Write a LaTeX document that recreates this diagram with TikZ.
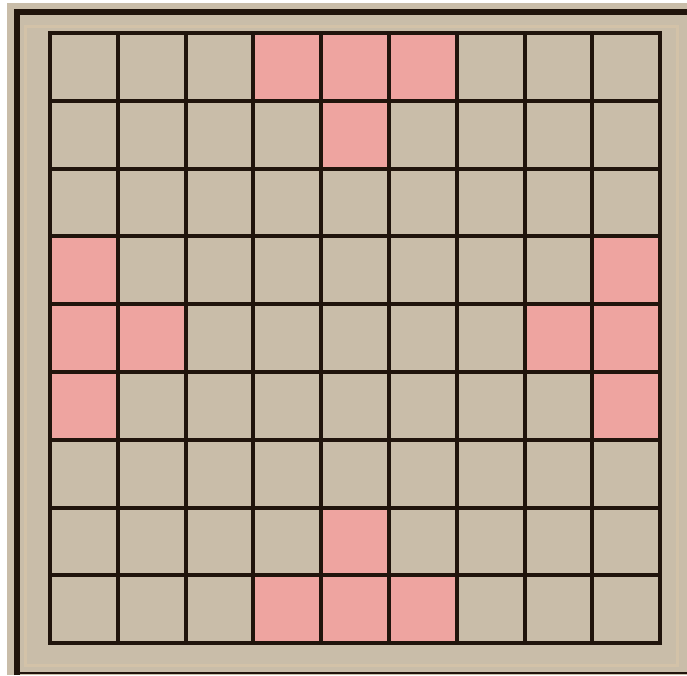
\documentclass[tikz,border=0pt]{standalone}
\usepackage{xcolor}
\usepackage{tikz}
\definecolor{board}{RGB}{201,189,169}
\definecolor{mark}{RGB}{238,164,160}
\definecolor{ink}{RGB}{32,20,12}
\definecolor{rim}{RGB}{211,194,168}

\begin{document}
\begin{tikzpicture}[x=1pt, y=-1pt, cell/.style={fill=mark}, gridline/.style={ink, line width=4pt, line cap=rect}, frame/.style={ink, line width=6pt}]
\useasboundingbox (0,0) rectangle (687,675);
\fill[white] (0,0) rectangle (687,675);
\fill[board] (7,3) rectangle (687,675);
\draw[rim, line width=3pt] (25,26) rectangle (677,665);
\draw[frame] (17,675) -- (17,12) -- (687,12);
\draw[ink, line width=2pt] (17,673) -- (687,673);
% marked squares (row/column, counted from top left)
\foreach \r/\c in {0/3,0/4,0/5,1/4,3/0,3/8,4/0,4/1,4/7,4/8,5/0,5/8,7/4,8/3,8/4,8/5}
  \fill[cell] ({50+67.8*\c},{33+67.8*\r}) rectangle ++(67.8,67.8);
\foreach \i in {0,...,9} {\draw[gridline] ({50+67.8*\i},33) -- ({50+67.8*\i},643.2); \draw[gridline] (50,{33+67.8*\i}) -- (660.2,{33+67.8*\i});}
\end{tikzpicture}
\end{document}
